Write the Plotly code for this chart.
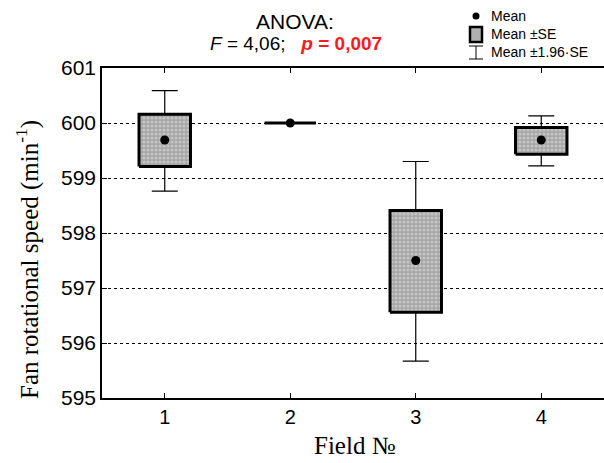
import plotly.graph_objects as go

# ---- data ----
fields = [1, 2, 3, 4]
field_labels = ["1", "2", "3", "4"]
means = [599.69, 600.00, 597.50, 599.69]
se_low = [599.21, 600.00, 596.56, 599.43]
se_high = [600.16, 600.00, 598.41, 599.92]
ci_low = [598.76, 600.00, 595.67, 599.22]
ci_high = [600.59, 600.00, 599.30, 600.13]
y_ticks = [595, 596, 597, 598, 599, 600, 601]

W, H = 610, 463
L, R, T, B = 102, 0, 68, 65
PLOT_RIGHT = 604
BOX_W = 0.41

def px_x(x):
    return (x - L) / (W - L - R)

def px_y(y):
    return (H - B - y) / (H - T - B)

fig = go.Figure()

# upper whiskers (SE top -> mean+1.96·SE)
fig.add_trace(go.Scatter(
    x=fields, y=se_high, mode="markers",
    marker=dict(size=1, color="rgba(0,0,0,0)"),
    error_y=dict(type="data", symmetric=False,
                 array=[c - s for c, s in zip(ci_high, se_high)],
                 arrayminus=[0] * len(fields),
                 width=13, thickness=1.2, color="black"),
    showlegend=False, hoverinfo="skip"))
# lower whiskers (SE bottom -> mean-1.96·SE)
fig.add_trace(go.Scatter(
    x=fields, y=se_low, mode="markers",
    marker=dict(size=1, color="rgba(0,0,0,0)"),
    error_y=dict(type="data", symmetric=False,
                 array=[0] * len(fields),
                 arrayminus=[s - c for s, c in zip(se_low, ci_low)],
                 width=13, thickness=1.2, color="black"),
    showlegend=False, hoverinfo="skip"))

# boxes fill (mean ±SE)
fig.add_trace(go.Bar(
    x=fields, y=[h - l for h, l in zip(se_high, se_low)], base=se_low,
    width=BOX_W,
    marker=dict(color="#b8b8b8", line=dict(width=0),
                pattern=dict(shape=".", size=4, solidity=0.5,
                             fgcolor="#e6e6e6", bgcolor="#a4a4a4")),
    showlegend=False, hoverinfo="skip"))

# box outlines
ox, oy = [], []
for f, lo, hi in zip(fields, se_low, se_high):
    ox += [f - BOX_W / 2, f + BOX_W / 2, f + BOX_W / 2, f - BOX_W / 2, f - BOX_W / 2, None]
    oy += [lo, lo, hi, hi, lo, None]
fig.add_trace(go.Scatter(x=ox, y=oy, mode="lines",
                         line=dict(color="black", width=3),
                         showlegend=False, hoverinfo="skip"))

# means
fig.add_trace(go.Scatter(x=fields, y=means, mode="markers",
                         marker=dict(size=9, color="black"),
                         showlegend=False, hoverinfo="skip"))

fig.update_layout(
    width=W, height=H,
    margin=dict(l=L, r=R, t=T, b=B, autoexpand=False),
    paper_bgcolor="white", plot_bgcolor="white",
    font=dict(family="Liberation Sans, Arial", color="black"),
    bargap=0,
    xaxis=dict(range=[0.5, 4.5], tickvals=fields, ticktext=field_labels,
               domain=[0, (PLOT_RIGHT - L) / (W - L - R)],
               showline=True, linecolor="black", linewidth=1.5, mirror="ticks",
               ticks="inside", ticklen=5, tickcolor="black", tickwidth=1,
               showgrid=False, zeroline=False, automargin=False,
               tickfont=dict(size=20, family="Liberation Sans, Arial")),
    yaxis=dict(range=[595, 601], tickvals=y_ticks,
               showline=True, linecolor="black", linewidth=1.5, mirror=False,
               ticks="inside", ticklen=5, tickcolor="black", tickwidth=1,
               showgrid=True, gridcolor="black", gridwidth=1, griddash="dot",
               zeroline=False, automargin=False,
               tickfont=dict(size=21, family="Liberation Sans, Arial")),
)

# axis titles
fig.add_annotation(xref="paper", yref="paper", x=px_x(355), y=px_y(445),
                   text="Field №", showarrow=False, xanchor="center", yanchor="middle",
                   font=dict(size=25, family="Liberation Serif, Times New Roman"))
fig.add_annotation(xref="paper", yref="paper", x=px_x(27), y=px_y(260),
                   text="Fan rotational speed (min<sup>-1</sup>)", textangle=-90,
                   showarrow=False, xanchor="center", yanchor="middle",
                   font=dict(size=25, family="Liberation Serif, Times New Roman"))

# title annotations
fig.add_annotation(xref="paper", yref="paper", x=px_x(295), y=px_y(21),
                   text="ANOVA:", showarrow=False, xanchor="center", yanchor="middle",
                   font=dict(size=21, family="Liberation Sans, Arial"))
fig.add_annotation(xref="paper", yref="paper", x=px_x(296), y=px_y(43),
                   text="<i>F</i> = 4,06;   <b><i><span style='color:#ff1a1a'>p</span></i><span style='color:#ff1a1a'> = 0,007</span></b>",
                   showarrow=False, xanchor="center", yanchor="middle",
                   font=dict(size=19, family="Liberation Sans, Arial"))

# custom legend
fig.add_shape(type="circle", xref="paper", yref="paper",
              x0=px_x(472.5), x1=px_x(479.5), y0=px_y(12.5), y1=px_y(19.5),
              fillcolor="black", line=dict(width=0))
fig.add_shape(type="rect", xref="paper", yref="paper",
              x0=px_x(470), x1=px_x(482), y0=px_y(27), y1=px_y(42),
              fillcolor="#b0b0b0", line=dict(color="black", width=2.5))
fig.add_shape(type="line", xref="paper", yref="paper",
              x0=px_x(476), x1=px_x(476), y0=px_y(46), y1=px_y(59),
              line=dict(color="black", width=1))
fig.add_shape(type="line", xref="paper", yref="paper",
              x0=px_x(469), x1=px_x(483), y0=px_y(46), y1=px_y(46),
              line=dict(color="black", width=1))
fig.add_shape(type="line", xref="paper", yref="paper",
              x0=px_x(469), x1=px_x(483), y0=px_y(59), y1=px_y(59),
              line=dict(color="black", width=1))
for txt, yy in [("Mean", 16), ("Mean ±SE", 34), ("Mean ±1.96·SE", 52)]:
    fig.add_annotation(xref="paper", yref="paper", x=px_x(489), y=px_y(yy),
                       text=txt, showarrow=False, xanchor="left", yanchor="middle",
                       font=dict(size=14, family="Liberation Sans, Arial"))

fig.write_html("out.html", config={"displayModeBar": False},
               post_script="document.body.style.margin='0';")
